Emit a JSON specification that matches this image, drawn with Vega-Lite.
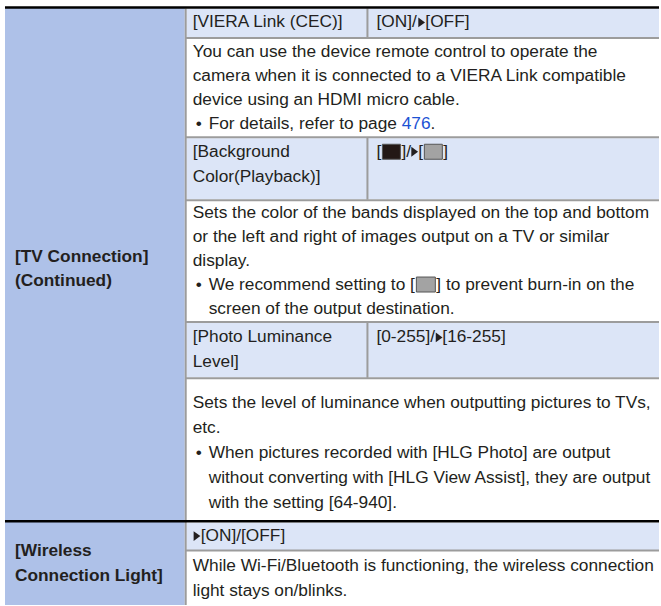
{
  "$schema": "https://vega.github.io/schema/vega-lite/v6.json",
  "width": 661,
  "height": 606,
  "autosize": {"type": "fit", "contains": "padding"},
  "padding": 0,
  "background": "white",
  "config": {
    "view": {"stroke": null},
    "text": {"font": "Liberation Sans", "fontSize": 17.3, "align": "left", "baseline": "middle", "color": "#231f20"}
  },
  "datasets": {
    "cells": [
      {"x": 5, "x2": 185, "y": 8, "y2": 606, "kind": "label"},
      {"x": 187, "x2": 660, "y": 9, "y2": 37, "kind": "head"},
      {"x": 187, "x2": 660, "y": 138.5, "y2": 199.5, "kind": "head"},
      {"x": 187, "x2": 660, "y": 323.5, "y2": 378, "kind": "head"},
      {"x": 187, "x2": 660, "y": 523.5, "y2": 551, "kind": "head"}
    ],
    "lines": [
      {"x": 186, "x2": 186, "y": 8.5, "y2": 606, "kind": "gray"},
      {"x": 368, "x2": 368, "y": 8.5, "y2": 37.5, "kind": "gray"},
      {"x": 368, "x2": 368, "y": 138, "y2": 200, "kind": "gray"},
      {"x": 368, "x2": 368, "y": 323, "y2": 378.5, "kind": "gray"},
      {"x": 186, "x2": 660, "y": 38, "y2": 38, "kind": "gray"},
      {"x": 186, "x2": 660, "y": 137.5, "y2": 137.5, "kind": "gray"},
      {"x": 186, "x2": 660, "y": 200.5, "y2": 200.5, "kind": "gray"},
      {"x": 186, "x2": 660, "y": 322.5, "y2": 322.5, "kind": "gray"},
      {"x": 186, "x2": 660, "y": 379, "y2": 379, "kind": "gray"},
      {"x": 186, "x2": 660, "y": 551.5, "y2": 551.5, "kind": "gray"},
      {"x": 5, "x2": 660, "y": 7.5, "y2": 7.5, "kind": "black"},
      {"x": 5, "x2": 660, "y": 522, "y2": 522, "kind": "black"}
    ],
    "swatches": [
      {"x": 383, "x2": 401, "y": 144.5, "y2": 159.5, "tone": "dark"},
      {"x": 425, "x2": 443, "y": 144.5, "y2": 159.5, "tone": "light"},
      {"x": 417, "x2": 436, "y": 277.5, "y2": 292.5, "tone": "light"}
    ],
    "arrows": [
      {"x": 422, "y": 22.5},
      {"x": 415, "y": 152},
      {"x": 439.5, "y": 338},
      {"x": 197, "y": 537}
    ],
    "texts": [
      {"x": 15, "y": 257, "text": "[TV Connection]", "style": "bold"},
      {"x": 15, "y": 281.5, "text": "(Continued)", "style": "bold"},
      {"x": 15, "y": 552, "text": "[Wireless", "style": "bold"},
      {"x": 15, "y": 576.5, "text": "Connection Light]", "style": "bold"},
      {"x": 193, "y": 22.5, "text": "[VIERA Link (CEC)]", "style": "normal"},
      {"x": 377, "y": 22.5, "text": "[ON]/", "style": "normal"},
      {"x": 426, "y": 22.5, "text": "[OFF]", "style": "normal"},
      {"x": 193, "y": 52, "text": "You can use the device remote control to operate the", "style": "normal"},
      {"x": 193, "y": 76, "text": "camera when it is connected to a VIERA Link compatible", "style": "normal"},
      {"x": 193, "y": 100, "text": "device using an HDMI micro cable.", "style": "normal"},
      {"x": 196, "y": 124, "text": "•", "style": "normal"},
      {"x": 209, "y": 124, "text": "For details, refer to page", "style": "normal"},
      {"x": 402.3, "y": 124, "text": "476", "style": "link"},
      {"x": 431.2, "y": 124, "text": ".", "style": "normal"},
      {"x": 193, "y": 152, "text": "[Background", "style": "normal"},
      {"x": 193, "y": 177, "text": "Color(Playback)]", "style": "normal"},
      {"x": 377, "y": 152, "text": "[", "style": "normal"},
      {"x": 402, "y": 152, "text": "]/", "style": "normal"},
      {"x": 419, "y": 152, "text": "[", "style": "normal"},
      {"x": 444, "y": 152, "text": "]", "style": "normal"},
      {"x": 193, "y": 213, "text": "Sets the color of the bands displayed on the top and bottom", "style": "normal"},
      {"x": 193, "y": 237, "text": "or the left and right of images output on a TV or similar", "style": "normal"},
      {"x": 193, "y": 261, "text": "display.", "style": "normal"},
      {"x": 196, "y": 285, "text": "•", "style": "normal"},
      {"x": 209, "y": 285, "text": "We recommend setting to [", "style": "normal"},
      {"x": 437, "y": 285, "text": "] to prevent burn-in on the", "style": "normal"},
      {"x": 209, "y": 309.5, "text": "screen of the output destination.", "style": "normal"},
      {"x": 193, "y": 338, "text": "[Photo Luminance", "style": "normal"},
      {"x": 193, "y": 362.5, "text": "Level]", "style": "normal"},
      {"x": 377, "y": 338, "text": "[0-255]/", "style": "normal"},
      {"x": 443, "y": 338, "text": "[16-255]", "style": "normal"},
      {"x": 193, "y": 403.5, "text": "Sets the level of luminance when outputting pictures to TVs,", "style": "normal"},
      {"x": 193, "y": 428.5, "text": "etc.", "style": "normal"},
      {"x": 196, "y": 453.5, "text": "•", "style": "normal"},
      {"x": 209, "y": 453.5, "text": "When pictures recorded with [HLG Photo] are output", "style": "normal"},
      {"x": 209, "y": 478.5, "text": "without converting with [HLG View Assist], they are output", "style": "normal"},
      {"x": 209, "y": 503.5, "text": "with the setting [64-940].", "style": "normal"},
      {"x": 201, "y": 537, "text": "[ON]/[OFF]", "style": "normal"},
      {"x": 193, "y": 567, "text": "While Wi-Fi/Bluetooth is functioning, the wireless connection", "style": "normal"},
      {"x": 193, "y": 591.5, "text": "light stays on/blinks.", "style": "normal"}
    ]
  },
  "layer": [
    {
      "data": {"name": "cells"},
      "mark": {"type": "rect"},
      "encoding": {
        "x": {"field": "x", "type": "quantitative", "scale": {"domain": [0, 661], "nice": false, "zero": false}, "axis": null},
        "x2": {"field": "x2"},
        "y": {"field": "y", "type": "quantitative", "scale": {"domain": [0, 606], "nice": false, "zero": false, "reverse": true}, "axis": null},
        "y2": {"field": "y2"},
        "color": {"field": "kind", "type": "nominal", "scale": {"domain": ["label", "head"], "range": ["#aec1e8", "#dce5f7"]}, "legend": null}
      }
    },
    {
      "data": {"name": "lines"},
      "transform": [{"filter": "datum.kind === 'gray'"}],
      "mark": {"type": "rule", "color": "#9c9c9c", "strokeWidth": 2},
      "encoding": {
        "x": {"field": "x", "type": "quantitative", "scale": {"domain": [0, 661], "nice": false, "zero": false}, "axis": null},
        "x2": {"field": "x2"},
        "y": {"field": "y", "type": "quantitative", "scale": {"domain": [0, 606], "nice": false, "zero": false, "reverse": true}, "axis": null},
        "y2": {"field": "y2"}
      }
    },
    {
      "data": {"name": "lines"},
      "transform": [{"filter": "datum.kind === 'black'"}],
      "mark": {"type": "rule", "color": "#000000", "strokeWidth": 2.5},
      "encoding": {
        "x": {"field": "x", "type": "quantitative", "scale": {"domain": [0, 661], "nice": false, "zero": false}, "axis": null},
        "x2": {"field": "x2"},
        "y": {"field": "y", "type": "quantitative", "scale": {"domain": [0, 606], "nice": false, "zero": false, "reverse": true}, "axis": null},
        "y2": {"field": "y2"}
      }
    },
    {
      "data": {"name": "swatches"},
      "mark": {"type": "rect", "stroke": "#555555", "strokeWidth": 1},
      "encoding": {
        "x": {"field": "x", "type": "quantitative", "scale": {"domain": [0, 661], "nice": false, "zero": false}, "axis": null},
        "x2": {"field": "x2"},
        "y": {"field": "y", "type": "quantitative", "scale": {"domain": [0, 606], "nice": false, "zero": false, "reverse": true}, "axis": null},
        "y2": {"field": "y2"},
        "color": {"field": "tone", "type": "nominal", "scale": {"domain": ["dark", "light"], "range": ["#231815", "#a3a3a3"]}, "legend": null}
      }
    },
    {
      "data": {"name": "arrows"},
      "mark": {"type": "point", "shape": "M -0.5 -0.8 L 0.6 0 L -0.5 0.8 Z", "filled": true, "size": 150, "color": "#231f20", "opacity": 1},
      "encoding": {
        "x": {"field": "x", "type": "quantitative", "scale": {"domain": [0, 661], "nice": false, "zero": false}, "axis": null},
        "y": {"field": "y", "type": "quantitative", "scale": {"domain": [0, 606], "nice": false, "zero": false, "reverse": true}, "axis": null}
      }
    },
    {
      "data": {"name": "texts"},
      "transform": [{"filter": "datum.style === 'normal'"}],
      "mark": {"type": "text"},
      "encoding": {
        "x": {"field": "x", "type": "quantitative", "scale": {"domain": [0, 661], "nice": false, "zero": false}, "axis": null},
        "y": {"field": "y", "type": "quantitative", "scale": {"domain": [0, 606], "nice": false, "zero": false, "reverse": true}, "axis": null},
        "text": {"field": "text"}
      }
    },
    {
      "data": {"name": "texts"},
      "transform": [{"filter": "datum.style === 'bold'"}],
      "mark": {"type": "text", "fontWeight": "bold"},
      "encoding": {
        "x": {"field": "x", "type": "quantitative", "scale": {"domain": [0, 661], "nice": false, "zero": false}, "axis": null},
        "y": {"field": "y", "type": "quantitative", "scale": {"domain": [0, 606], "nice": false, "zero": false, "reverse": true}, "axis": null},
        "text": {"field": "text"}
      }
    },
    {
      "data": {"name": "texts"},
      "transform": [{"filter": "datum.style === 'link'"}],
      "mark": {"type": "text", "color": "#1c52d4"},
      "encoding": {
        "x": {"field": "x", "type": "quantitative", "scale": {"domain": [0, 661], "nice": false, "zero": false}, "axis": null},
        "y": {"field": "y", "type": "quantitative", "scale": {"domain": [0, 606], "nice": false, "zero": false, "reverse": true}, "axis": null},
        "text": {"field": "text"}
      }
    }
  ],
  "resolve": {"scale": {"color": "independent"}}
}
